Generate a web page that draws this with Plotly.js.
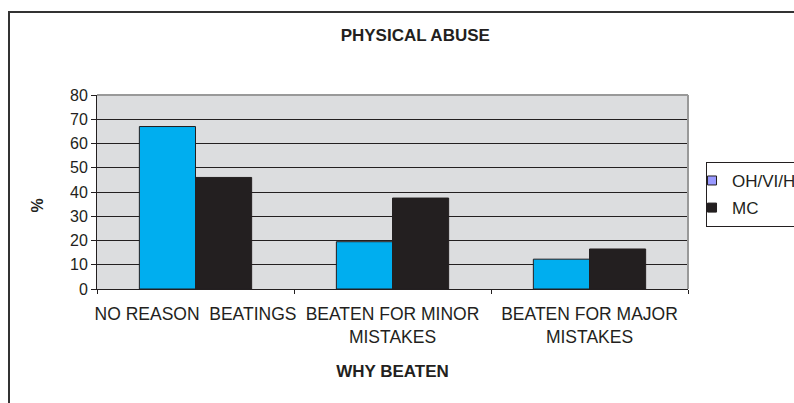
<!DOCTYPE html>
<html>
<head>
<meta charset="utf-8">
<script src="https://cdn.plot.ly/plotly-3.0.1.min.js"></script>
<style>
  body { margin: 0; overflow: hidden; background: #fff; }
  #frame { position: absolute; left: 8px; top: 11px; width: 900px; height: 500px; border: 2px solid #333; }
  #chart { position: absolute; left: 0; top: 0; width: 794px; height: 403px; }
</style>
</head>
<body>
<div id="frame"></div>
<div id="chart"></div>
<script>
// categories and the two groups
var reasons = ["NO REASON  BEATINGS", "BEATEN FOR MINOR<br>MISTAKES", "BEATEN FOR MAJOR<br>MISTAKES"];
var ohviValues = [67, 19.5, 12.3];
var mcValues = [46, 37.5, 16.5];
var yTicks = [0, 10, 20, 30, 40, 50, 60, 70, 80];

var ink = "#231f20";

var ohvi = {
  x: reasons, y: ohviValues, type: "bar", name: "OH/VI/H", showlegend: false,
  marker: { color: "#00aeef", line: { color: ink, width: 1 } }
};
var mc = {
  x: reasons, y: mcValues, type: "bar", name: "MC", showlegend: false,
  marker: { color: ink, line: { color: ink, width: 1 } }
};

// legend entries (the old chart shows a lavender swatch for the first group)
var legOhvi = {
  x: [null], y: [null], type: "scatter", mode: "markers", name: "OH/VI/H", legendgroup: "a",
  marker: { symbol: "square", size: 9, color: "#9999ff", line: { color: ink, width: 1 } }
};
var legMc = {
  x: [null], y: [null], type: "scatter", mode: "markers", name: "MC", legendgroup: "b",
  marker: { symbol: "square", size: 9, color: ink, line: { color: ink, width: 1 } }
};

var layout = {
  width: 794, height: 403,
  margin: { l: 97, r: 106, t: 95, b: 114, autoexpand: false },
  paper_bgcolor: "rgba(0,0,0,0)",
  plot_bgcolor: "#dcdddf",
  font: { family: "Liberation Sans, Arial, sans-serif", size: 16, color: ink },
  title: {
    text: "<b>PHYSICAL ABUSE</b>", font: { size: 17, color: ink },
    xref: "container", x: 0.523, yref: "container", y: 0.913, xanchor: "center", yanchor: "middle"
  },
  barmode: "group", bargap: 0.43, bargroupgap: 0,
  xaxis: {
    title: { text: "<b>WHY BEATEN</b>", font: { size: 17 }, standoff: 19 },
    tickfont: { size: 17.5 }, tickangle: 0, ticklabelstandoff: 9,
    showline: true, linecolor: ink, linewidth: 1,
    ticks: "outside", tickson: "boundaries", ticklen: 4, tickcolor: ink,
    showgrid: false, fixedrange: true
  },
  yaxis: {
    range: [0, 80], tickvals: yTicks, tickfont: { size: 16 },
    showline: true, linecolor: ink, linewidth: 1,
    ticks: "outside", ticklen: 5, tickcolor: ink,
    gridcolor: ink, gridwidth: 1, zeroline: false, fixedrange: true
  },
  annotations: [
    { text: "<b>%</b>", xref: "paper", yref: "paper", x: -0.1168, y: 0.433,
      textangle: -90, showarrow: false, font: { size: 16, color: ink } }
  ],
  legend: {
    x: 1.0305, xanchor: "left", y: 0.655, yanchor: "top",
    bgcolor: "#fff", bordercolor: ink, borderwidth: 1,
    traceorder: "grouped", tracegroupgap: 2, indentation: -15,
    font: { size: 17, color: ink }
  },
  shapes: [
    { type: "line", xref: "paper", yref: "paper", x0: 0, x1: 1, y0: 1, y1: 1, line: { color: "#999", width: 2 } },
    { type: "line", xref: "paper", yref: "paper", x0: 1, x1: 1, y0: 0, y1: 1, line: { color: "#999", width: 2 } }
  ]
};

Plotly.newPlot("chart", [ohvi, mc, legOhvi, legMc], layout, { displayModeBar: false, staticPlot: true });
</script>
</body>
</html>
